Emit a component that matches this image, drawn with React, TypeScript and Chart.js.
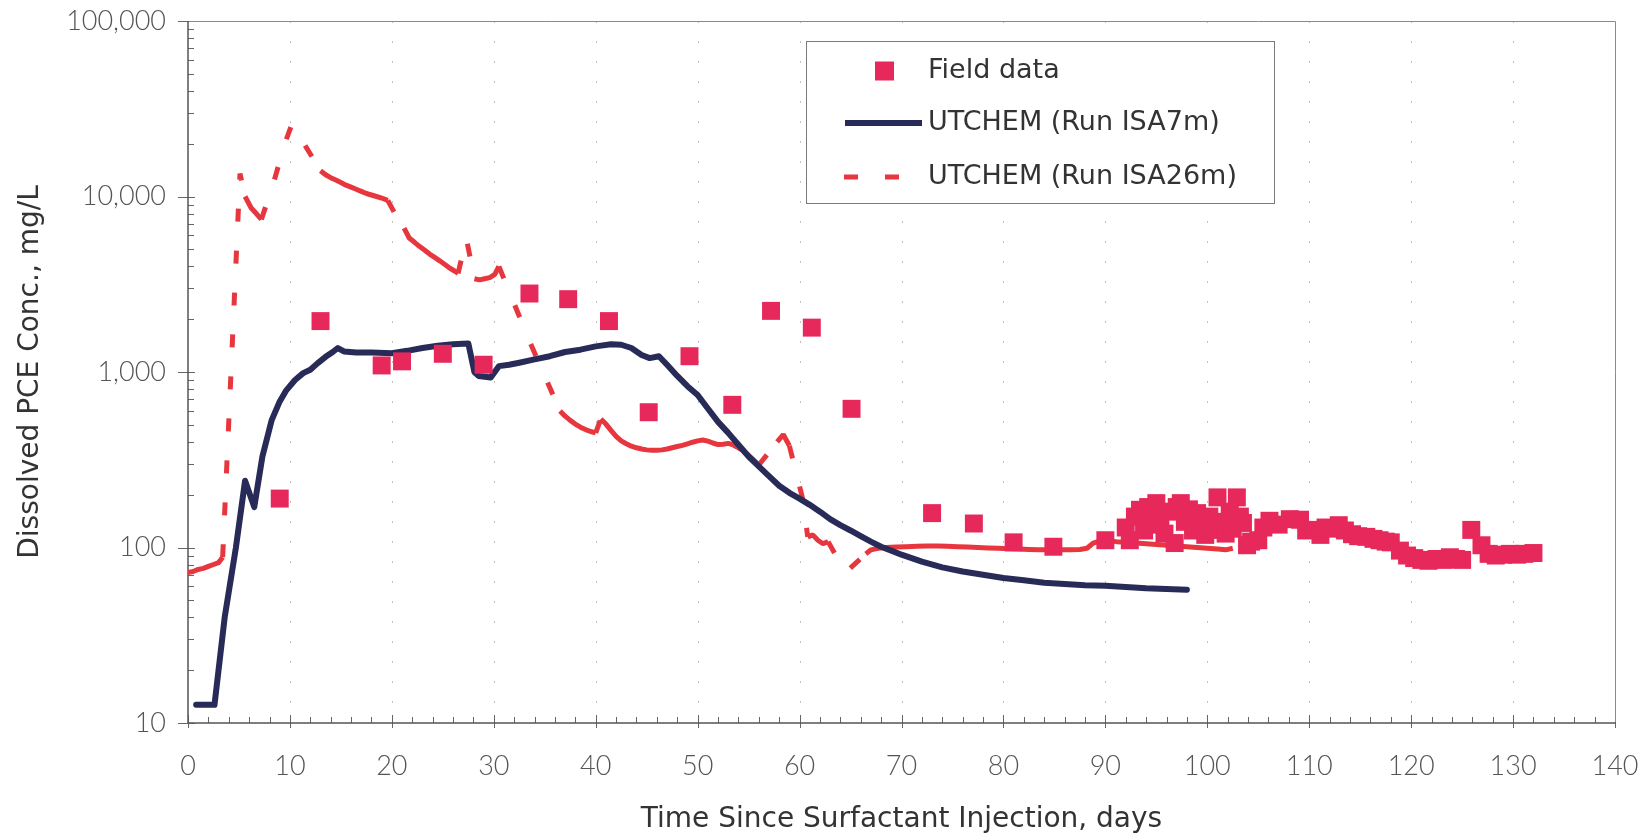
import React, { useEffect, useRef } from 'react';
import { Chart, registerables } from 'chart.js';

Chart.register(...registerables);

// ---- Field measurements (day, mg/L) ----
const fieldDays = [
  9, 13, 19, 21, 25, 29, 33.5, 37.3, 41.3, 45.2,
  49.2, 53.4, 57.2, 61.2, 65.1, 73, 77.1, 81, 84.9, 90,
  92.0, 92.4, 92.9, 93.4, 93.8, 94.2, 94.6, 95.0, 95.4, 95.8,
  96.2, 96.8, 97.0, 97.4, 97.8, 98.2, 98.6, 99.0, 99.4, 99.8,
  100.2, 100.6, 101.0, 101.4, 101.8, 102.2, 102.5, 102.9, 103.2, 103.5,
  103.9, 104.3, 105.0, 105.5, 106.1, 107.0, 108.1, 109.1, 109.7, 110.4,
  111.1, 111.6, 112.3, 112.9, 113.5, 114.2, 114.8, 115.6, 116.3, 116.9,
  117.5, 118.0, 118.9, 119.6, 120.3, 121.0, 121.7, 122.5, 123.2, 123.8,
  124.4, 125.0, 125.9, 126.9, 127.6, 128.3, 129.0, 129.7, 130.4, 131.1,
  132.0,
];
const fieldConc = [
  190, 1950, 1090, 1150, 1270, 1100, 2800, 2600, 1950, 590,
  1230, 650, 2230, 1790, 617, 157, 137, 107, 101, 110,
  130, 110, 150, 164, 125, 170, 135, 179, 150, 120,
  160, 106, 170, 179, 140, 165, 125, 157, 135, 118,
  150, 126, 193, 140, 120, 160, 128, 193, 150, 138,
  103, 108, 110, 130, 142, 135, 145, 144, 125, 126,
  118, 130, 128, 134, 125, 119, 116, 115, 112, 110,
  108, 107, 96, 90, 87, 85, 84, 86, 85, 88,
  86, 85, 126, 103, 92, 90, 91, 92, 91, 92,
  93,
];

// ---- UTCHEM run ISA7m ----
const isa7mDays = [
  0.8, 2.6, 3.6, 4.7, 5.6, 6.5, 7.3, 8.2, 9.0, 9.6,
  10.5, 11.3, 12.0, 12.7, 13.5, 14.2, 14.7, 15.3, 16.5, 18,
  20, 21.5, 23, 24.5, 26, 27.5, 28.1, 28.5, 29.7, 30.5,
  31.5, 32.5, 34, 35.5, 37, 38.5, 40, 41.5, 42.5, 43.5,
  44.5, 45.3, 46.2, 47, 48, 49, 50, 51, 52, 53,
  54, 55, 56, 57, 58, 59, 60, 61, 62, 63,
  64, 65, 66, 67, 68, 69, 70, 72, 74, 76,
  78, 80, 82, 84, 86, 88, 90, 92, 94, 96,
  98,
];
const isa7mConc = [
  12.7, 12.7, 40, 100, 240, 170, 330, 530, 680, 780,
  900, 985, 1030, 1120, 1220, 1300, 1370, 1310, 1290, 1290,
  1280, 1320, 1370, 1410, 1440, 1455, 1000, 950, 930, 1080,
  1100, 1130, 1180, 1230, 1300, 1340, 1400, 1440, 1430, 1370,
  1250, 1200, 1230, 1100, 950, 830, 740, 620, 520, 450,
  385, 330, 290, 255, 225, 205, 190, 175, 160, 145,
  134, 125, 116, 108, 101, 96, 91, 83, 77, 73,
  70, 67, 65, 63, 62, 61, 60.5, 59.5, 58.5, 58,
  57.5,
];

// ---- UTCHEM run ISA26m ----
const isa26mDays = [
  0, 0.5, 1, 1.5, 2, 2.5, 3, 3.4,
  5.1, 5.6, 6.2, 6.7, 7.2, 8.4, 9.5, 10.2,
  13.0, 13.5, 14, 14.5, 15, 15.5, 16, 16.5, 17, 17.5, 18, 18.5, 19, 19.6,
  20.4, 21.2, 21.7, 22.2, 22.7, 23.2, 23.7, 24.2, 24.7, 25.2, 25.7, 26.2, 26.5,
  27.3, 28.1, 28.6, 29.1, 29.6, 30.1, 30.5, 33.5,
  36.5, 37, 37.5, 38, 38.5, 39, 39.5, 40, 40.5, 41, 41.5, 42, 42.5, 43, 43.5,
  44, 44.5, 45, 45.5, 46, 46.5, 47, 47.5, 48, 48.5, 49, 49.5, 50, 50.5,
  51, 51.5, 52, 52.5, 53, 53.5, 54, 54.5, 55, 55.5, 56,
  57.8, 58.4, 59, 60.3, 60.8, 61.3, 61.8, 62.3, 62.8, 64.5,
  66.5, 67, 67.7, 68.5, 69.5, 70.5, 71.5, 72.5, 73.5, 74.5,
  75.5, 76.5, 77.5, 78.5, 79.5, 80.5, 81.5, 82.5, 83.5, 84.5,
  85.5, 86.5, 87.5, 88.2, 88.8, 89.5, 90.3, 91.1, 92, 93,
  94, 95, 96, 97, 98, 99, 100, 101, 101.8, 102.5,
];
const isa26mConc = [
  72, 73, 75, 76, 78, 80, 82, 88,
  13500, 10000, 8600, 8000, 7400, 12000, 20000, 26000,
  14000, 13300, 12800, 12400, 12000, 11600, 11300, 11000, 10700, 10400, 10200, 10000, 9800, 9500,
  7800, 6600, 5800, 5500, 5200, 4950, 4700, 4500, 4300, 4100, 3900, 3750, 3650,
  5800, 3400, 3350, 3400, 3450, 3600, 4000, 1500,
  600, 560, 530, 505, 485, 470, 458, 450, 540, 505, 465, 430, 405, 390, 378,
  370, 364, 360, 358, 358, 360, 364, 370, 376, 382, 390, 398, 405, 410,
  404, 394, 386, 388, 392, 384, 370, 355, 335, 315, 295,
  400, 440, 380, 190, 115, 118, 110, 105, 108, 72,
  92, 97, 99, 100, 100.5, 101, 101.5, 102, 102, 101.5,
  101, 100.5, 100, 99.5, 99, 98.5, 98, 97.5, 97, 97,
  97, 97, 97.5, 99, 106, 109, 109, 108, 107, 106,
  105, 104, 103, 102, 101, 100, 99, 98, 97, 99,
];

// ---- Axes ----
const xTickValues = [0, 10, 20, 30, 40, 50, 60, 70, 80, 90, 100, 110, 120, 130, 140];
const yTickValues = [10, 100, 1000, 10000, 100000];
const yTickLabels = ['10', '100', '1,000', '10,000', '100,000'];
const seriesLabels = ['Field data', 'UTCHEM (Run ISA7m)', 'UTCHEM (Run ISA26m)'];
const xAxisTitle = 'Time Since Surfactant Injection, days';
const yAxisTitle = 'Dissolved PCE Conc., mg/L';

const FIELD_COLOR = '#e6285a';
const ISA7_COLOR = '#282b58';
const ISA26_COLOR = '#e8363f';
const DASH = [13, 29];

const toPoints = (xs: number[], ys: number[]) => xs.map((x, i) => ({ x, y: ys[i] }));

// Frame, dotted day gridlines and the small inner tick marks
const axisFrame = {
  id: 'axisFrame',
  beforeDatasetsDraw(chart: any) {
    const { ctx, chartArea, scales } = chart;
    const { left, right, top, bottom } = chartArea;
    const x = scales.x;
    const y = scales.y;
    ctx.save();

    // dotted vertical gridlines
    ctx.strokeStyle = 'rgba(140,140,140,0.55)';
    ctx.lineWidth = 1;
    ctx.setLineDash([2, 18]);
    ctx.beginPath();
    for (const v of xTickValues) {
      if (v === xTickValues[0] || v === xTickValues[xTickValues.length - 1]) continue;
      const px = Math.round(x.getPixelForValue(v)) + 0.5;
      ctx.moveTo(px, bottom);
      ctx.lineTo(px, top);
    }
    ctx.stroke();
    ctx.setLineDash([]);

    // tick marks
    ctx.strokeStyle = '#666';
    ctx.lineWidth = 1;
    ctx.beginPath();
    for (let d = 2; d < 140; d += 2) {
      if (d % 10 === 0) continue;
      const px = Math.round(x.getPixelForValue(d)) + 0.5;
      ctx.moveTo(px, bottom);
      ctx.lineTo(px, bottom - 6);
    }
    for (const v of xTickValues) {
      const px = Math.round(x.getPixelForValue(v)) + 0.5;
      ctx.moveTo(px, bottom + 5);
      ctx.lineTo(px, bottom - 8);
    }
    for (let e = 1; e < 5; e++) {
      for (let m = 2; m <= 9; m++) {
        const py = Math.round(y.getPixelForValue(m * Math.pow(10, e))) + 0.5;
        ctx.moveTo(left, py);
        ctx.lineTo(left + 6, py);
      }
    }
    for (const v of yTickValues) {
      const py = Math.round(y.getPixelForValue(v)) + 0.5;
      ctx.moveTo(left - 10, py);
      ctx.lineTo(left + 7, py);
    }
    ctx.stroke();

    // plot frame
    ctx.strokeStyle = '#8a8a8a';
    ctx.lineWidth = 1;
    ctx.beginPath();
    ctx.moveTo(left, top + 0.5);
    ctx.lineTo(right + 0.5, top + 0.5);
    ctx.lineTo(right + 0.5, bottom);
    ctx.stroke();
    ctx.strokeStyle = '#555';
    ctx.lineWidth = 1.5;
    ctx.beginPath();
    ctx.moveTo(left, top);
    ctx.lineTo(left, bottom);
    ctx.lineTo(right + 1, bottom);
    ctx.stroke();
    ctx.restore();
  },
};

// Boxed legend inside the plot area
const legendBox = {
  id: 'legendBox',
  afterDraw(chart: any) {
    const { ctx, chartArea } = chart;
    const bx = Math.round(chartArea.left + 618);
    const by = Math.round(chartArea.top + 20);
    const bw = 468;
    const bh = 162;
    const rows = [by + 30, by + 82, by + 136];
    ctx.save();
    ctx.fillStyle = '#fff';
    ctx.fillRect(bx, by, bw, bh);
    ctx.strokeStyle = '#7a7a7a';
    ctx.lineWidth = 1;
    ctx.strokeRect(bx + 0.5, by + 0.5, bw, bh);

    ctx.fillStyle = FIELD_COLOR;
    ctx.fillRect(bx + 69, rows[0] - 9.5, 19, 19);

    ctx.strokeStyle = ISA7_COLOR;
    ctx.lineWidth = 6;
    ctx.beginPath();
    ctx.moveTo(bx + 39, rows[1]);
    ctx.lineTo(bx + 116, rows[1]);
    ctx.stroke();

    ctx.strokeStyle = ISA26_COLOR;
    ctx.lineWidth = 5;
    ctx.setLineDash([14, 27]);
    ctx.beginPath();
    ctx.moveTo(bx + 38, rows[2]);
    ctx.lineTo(bx + 93, rows[2]);
    ctx.stroke();
    ctx.setLineDash([]);

    ctx.font = '27px "DejaVu Sans"';
    ctx.fillStyle = '#333';
    ctx.textBaseline = 'middle';
    ctx.textAlign = 'left';
    seriesLabels.forEach((t, i) => ctx.fillText(t, bx + 122, rows[i]));
    ctx.restore();
  },
};

export default function App() {
  const canvasRef = useRef<HTMLCanvasElement | null>(null);

  useEffect(() => {
    document.body.style.margin = '0';
    const canvas = canvasRef.current;
    if (!canvas) return;

    const segLen = (c: any) => Math.hypot(c.p1.x - c.p0.x, c.p1.y - c.p0.y);

    const chart = new Chart(canvas, {
      type: 'scatter',
      data: {
        datasets: [
          {
            type: 'scatter',
            label: seriesLabels[0],
            data: toPoints(fieldDays, fieldConc),
            pointStyle: 'rect',
            pointRadius: 12.7,
            pointHoverRadius: 12.7,
            backgroundColor: FIELD_COLOR,
            borderWidth: 0,
            order: 0,
          },
          {
            type: 'line',
            label: seriesLabels[1],
            data: toPoints(isa7mDays, isa7mConc),
            borderColor: ISA7_COLOR,
            borderWidth: 6,
            borderJoinStyle: 'round',
            borderCapStyle: 'round',
            pointRadius: 0,
            tension: 0,
            fill: false,
            order: 1,
          },
          {
            type: 'line',
            label: seriesLabels[2],
            data: toPoints(isa26mDays, isa26mConc),
            borderColor: ISA26_COLOR,
            borderWidth: 5,
            borderCapStyle: 'butt',
            borderJoinStyle: 'bevel',
            pointRadius: 0,
            tension: 0,
            fill: false,
            order: 2,
            segment: {
              borderDash: (c: any) => (segLen(c) > 14 ? DASH : []),
            },
          },
        ],
      } as any,
      options: {
        responsive: false,
        animation: false,
        devicePixelRatio: 1,
        layout: { padding: { top: 21, right: 37, left: 0, bottom: 0 } },
        plugins: {
          legend: { display: false },
          tooltip: { enabled: false },
        },
        scales: {
          x: {
            type: 'linear',
            min: 0,
            max: 140,
            afterBuildTicks: (s: any) => {
              s.ticks = xTickValues.map((v) => ({ value: v }));
            },
            afterFit: (s: any) => {
              s.height = 116;
              s.paddingLeft = 0;
              s.paddingRight = 0;
            },
            ticks: {
              font: { family: 'Lato', size: 27, weight: '300' },
              color: '#555',
              padding: 27,
              maxRotation: 0,
              autoSkip: false,
              callback: (v: any) => String(v),
            },
            grid: { display: false, drawTicks: false },
            border: { display: false },
            title: {
              display: true,
              text: xAxisTitle,
              font: { family: 'DejaVu Sans', size: 28 },
              color: '#333',
              padding: { top: 0, bottom: 2 },
            },
          },
          y: {
            type: 'logarithmic',
            min: 10,
            max: 100000,
            afterBuildTicks: (s: any) => {
              s.ticks = yTickValues.map((v) => ({ value: v }));
            },
            afterFit: (s: any) => {
              s.width = 188;
              s.paddingTop = 0;
              s.paddingBottom = 0;
            },
            ticks: {
              font: { family: 'Lato', size: 27, weight: '300' },
              color: '#555',
              padding: 22,
              autoSkip: false,
              callback: (_v: any, i: number) => yTickLabels[i],
            },
            grid: { display: false, drawTicks: false },
            border: { display: false },
            title: {
              display: true,
              text: yAxisTitle,
              font: { family: 'DejaVu Sans', size: 28 },
              color: '#333',
              padding: { top: 14, bottom: 0 },
            },
          },
        },
      } as any,
      plugins: [axisFrame, legendBox],
    });

    return () => chart.destroy();
  }, []);

  return (
    <div style={{ width: 1652, height: 839, background: '#fff' }}>
      <canvas ref={canvasRef} width={1652} height={839} style={{ display: 'block' }} />
    </div>
  );
}
